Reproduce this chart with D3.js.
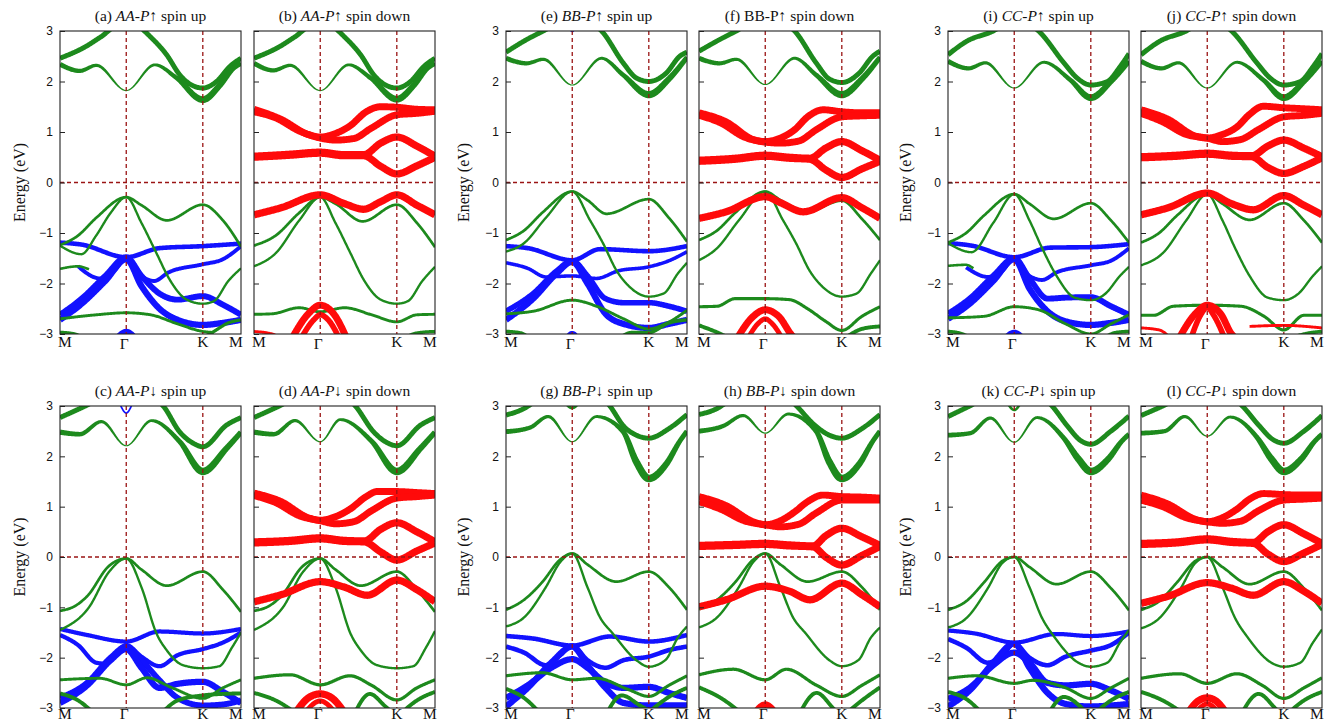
<!DOCTYPE html>
<html><head><meta charset="utf-8">
<script src="https://cdn.jsdelivr.net/npm/d3@7"></script>
<style>body{margin:0;background:#fff}svg{display:block}</style>
</head><body><svg id="c" width="1337" height="723"></svg>
<script>
// ---- data ----
const kLabels = ["M","Γ","K","M"];
const kPos = [0, 0.366, 0.789, 1];
const eTicks = [-3,-2,-1,0,1,2,3];
const titleParts = {
  a:["(a) ","AA-P","↑ spin up"], b:["(b) ","AA-P","↑ spin down"],
  c:["(c) ","AA-P","↓ spin up"], d:["(d) ","AA-P","↓ spin down"],
  e:["(e) ","BB-P","↑ spin up"], f:["(f) BB-P","","↑ spin down"],
  g:["(g) ","BB-P","↓ spin up"], h:["(h) ","BB-P","↓ spin down"],
  i:["(i) ","CC-P","↑ spin up"], j:["(j) ","CC-P","↑ spin down"],
  k:["(k) ","CC-P","↓ spin up"], l:["(l) ","CC-P","↓ spin down"]
};
// band: c = projection colour group, w = weight, p = [k, E(eV), optional weight]
const bandsA = [
 {c:"g",w:.6,p:[[0,2.46],[0.146,2.7],[0.22,2.87],[0.366,3.2],[0.515,2.83],[0.589,2.53],[0.662,2.13],[0.727,1.93],[0.789,1.87],[0.865,2.0],[0.939,2.3],[1,2.46]]},
 {c:"g",w:.5,p:[[0,2.34,.6],[0.109,2.21,.5],[0.201,2.32,.35],[0.366,1.82,.03],[0.524,2.33,.3],[0.644,2.07,.55],[0.789,1.64,.9],[0.884,1.93,.75],[0.958,2.26,.6],[1,2.36,.6]]},
 {c:"b",w:.55,p:[[0,-1.19],[0.12,-1.23],[0.366,-1.48],[0.55,-1.3],[0.789,-1.26],[1,-1.21]]},
 {c:"b",w:.45,p:[[0.1,-1.66],[0.22,-1.9],[0.3,-1.75],[0.366,-1.5],[0.45,-1.85],[0.52,-1.95],[0.6,-1.78],[0.789,-1.62],[0.9,-1.52],[1,-1.26]]},
 {c:"b",w:.75,p:[[0,-2.62],[0.12,-2.3],[0.25,-1.85],[0.366,-1.48],[0.45,-1.85],[0.55,-2.2],[0.65,-2.32],[0.789,-2.25],[0.9,-2.42],[1,-2.62]]},
 {c:"b",w:.8,p:[[0,-2.72],[0.12,-2.4],[0.25,-1.95],[0.366,-1.52],[0.45,-2.05],[0.55,-2.5],[0.65,-2.72],[0.789,-2.82],[0.9,-2.78],[1,-2.72]]},
 {c:"b",w:.8,p:[[0.3,-3.15],[0.366,-2.96],[0.43,-3.15]]},
 {c:"g",w:.27,p:[[0,-1.24],[0.1,-1.05],[0.2,-0.7],[0.366,-0.29],[0.45,-0.45],[0.59,-0.75],[0.789,-0.44],[0.9,-0.75],[1,-1.27]]},
 {c:"g",w:.22,p:[[0,-1.25],[0.118,-1.42],[0.2,-1.05],[0.28,-0.6],[0.366,-0.29],[0.45,-0.8],[0.533,-1.4],[0.607,-1.93],[0.7,-2.32],[0.789,-2.4],[0.85,-2.35],[0.93,-1.95],[1,-1.7]]},
 {c:"g",w:.25,p:[[0,-1.71],[0.1,-1.66],[0.16,-1.72]]},
 {c:"g",w:.3,p:[[0,-2.7],[0.2,-2.62],[0.366,-2.58],[0.5,-2.62],[0.65,-2.8],[0.789,-2.95],[0.85,-2.97]]},
 {c:"g",w:.35,p:[[0.75,-3.15],[0.85,-2.95],[0.93,-2.78],[1,-2.72]]},
 {c:"g",w:.4,p:[[0,-2.97],[0.08,-3.0],[0.15,-3.15]]}
];
const bandsB = [
 {c:"g",w:.6,p:[[0,2.46],[0.146,2.7],[0.22,2.87],[0.366,3.2],[0.515,2.83],[0.589,2.53],[0.662,2.13],[0.727,1.93],[0.789,1.87],[0.865,2.0],[0.939,2.3],[1,2.46]]},
 {c:"g",w:.5,p:[[0,2.36,.6],[0.107,2.22,.5],[0.2,2.32,.35],[0.366,1.82,.03],[0.523,2.33,.3],[0.644,2.07,.55],[0.789,1.65,.9],[0.884,1.93,.75],[0.958,2.26,.6],[1,2.36,.6]]},
 {c:"g",w:.27,p:[[0,-1.25],[0.12,-1.05],[0.25,-0.6],[0.366,-0.29],[0.45,-0.42],[0.6,-0.77],[0.789,-0.44],[0.9,-0.8],[1,-1.28]]},
 {c:"g",w:.22,p:[[0,-1.66],[0.12,-1.4],[0.25,-0.75],[0.366,-0.29],[0.45,-0.8],[0.533,-1.4],[0.607,-1.93],[0.7,-2.32],[0.789,-2.4],[0.85,-2.35],[0.93,-1.95],[1,-1.67]]},
 {c:"g",w:.3,p:[[0,-2.61],[0.1,-2.6],[0.25,-2.48],[0.366,-2.56],[0.5,-2.48],[0.65,-2.62],[0.789,-2.76],[0.9,-2.62],[1,-2.61]]},
 {c:"g",w:.35,p:[[0.8,-3.15],[0.9,-2.98],[1,-2.95]]},
 {c:"r",w:.9,p:[[0,1.45],[0.15,1.25],[0.3,0.95],[0.366,0.9],[0.45,0.97],[0.53,1.12],[0.62,1.4],[0.7,1.5],[0.789,1.49],[0.9,1.45],[1,1.44]]},
 {c:"r",w:.9,p:[[0,1.4],[0.12,1.28],[0.25,1.02],[0.366,0.88],[0.45,0.84],[0.55,0.87],[0.65,1.08],[0.789,1.34],[0.9,1.37],[1,1.41]]},
 {c:"r",w:.95,p:[[0,0.52],[0.2,0.56],[0.366,0.6],[0.5,0.55],[0.606,0.55],[0.7,0.78],[0.789,0.9],[0.9,0.72],[1,0.52]]},
 {c:"r",w:.95,p:[[0,0.5],[0.2,0.54],[0.366,0.58],[0.5,0.53],[0.606,0.53],[0.7,0.32],[0.789,0.17],[0.9,0.33],[1,0.5]]},
 {c:"r",w:.95,p:[[0,-0.64],[0.15,-0.5],[0.366,-0.245],[0.5,-0.42],[0.606,-0.53],[0.7,-0.38],[0.789,-0.245],[0.9,-0.45],[1,-0.64]]},
 {c:"r",w:.9,p:[[0.2,-3.15],[0.3,-2.6],[0.366,-2.43],[0.44,-2.6],[0.52,-3.15]]},
 {c:"r",w:.7,p:[[0.25,-3.15],[0.33,-2.72],[0.366,-2.62],[0.41,-2.72],[0.48,-3.15]]},
 {c:"r",w:.3,p:[[0,-2.95],[0.1,-3.0],[0.18,-3.15]]}
];
const bandsC = [
 {c:"g",w:.6,p:[[0,2.77],[0.14,3.0],[0.366,3.4],[0.57,3.0],[0.66,2.49],[0.736,2.26],[0.789,2.19],[0.92,2.62],[1,2.77]]},
 {c:"g",w:.5,p:[[0,2.48,.65],[0.109,2.44,.55],[0.229,2.69,.35],[0.366,2.21,.03],[0.506,2.71,.3],[0.662,2.29,.6],[0.789,1.7,1],[0.92,2.16,.75],[1,2.48,.65]]},
 {c:"b",w:.12,p:[[0.33,3.05],[0.366,2.86],[0.4,3.05]]},
 {c:"b",w:.5,p:[[0,-1.43],[0.15,-1.55],[0.366,-1.68],[0.55,-1.48],[0.789,-1.52],[1,-1.43]]},
 {c:"b",w:.5,p:[[0,-1.55],[0.1,-1.75],[0.2,-2.1],[0.25,-2.12],[0.366,-1.75],[0.45,-1.98],[0.55,-2.17],[0.65,-1.95],[0.789,-1.83],[0.9,-1.7],[1,-1.5]]},
 {c:"b",w:.75,p:[[0,-2.8],[0.15,-2.5],[0.28,-2.0],[0.366,-1.78],[0.45,-2.05],[0.55,-2.45],[0.65,-2.8],[0.789,-2.95],[0.9,-2.93],[1,-2.85]]},
 {c:"b",w:.8,p:[[0,-2.9],[0.15,-2.55],[0.28,-2.05],[0.366,-1.83],[0.45,-2.2],[0.55,-2.6],[0.65,-2.52],[0.789,-2.48],[0.9,-2.68],[1,-2.9]]},
 {c:"g",w:.27,p:[[0,-1.07],[0.08,-0.98],[0.15,-0.78],[0.27,-0.18],[0.366,-0.03],[0.45,-0.25],[0.59,-0.57],[0.789,-0.29],[0.9,-0.65],[1,-1.09]]},
 {c:"g",w:.22,p:[[0,-1.45],[0.16,-1.0],[0.27,-0.3],[0.366,-0.03],[0.45,-0.6],[0.533,-1.52],[0.589,-1.85],[0.68,-2.15],[0.789,-2.21],[0.88,-2.17],[0.95,-1.8],[1,-1.5]]},
 {c:"g",w:.3,p:[[0,-2.44],[0.22,-2.41],[0.366,-2.54],[0.48,-2.4],[0.62,-2.6],[0.789,-2.81],[0.9,-2.6],[1,-2.44]]},
 {c:"g",w:.45,p:[[0,-2.71],[0.1,-2.85],[0.2,-3.15]]},
 {c:"g",w:.45,p:[[0.55,-3.15],[0.65,-2.85],[0.789,-2.75],[0.9,-2.72],[1,-2.71]]}
];
const bandsD = [
 {c:"g",w:.6,p:[[0,2.77],[0.14,3.0],[0.366,3.4],[0.56,3.0],[0.66,2.49],[0.736,2.27],[0.789,2.21],[0.92,2.62],[1,2.77]]},
 {c:"g",w:.5,p:[[0,2.48,.65],[0.109,2.44,.55],[0.227,2.71,.35],[0.366,2.29,.03],[0.477,2.73,.3],[0.65,2.3,.6],[0.789,1.7,1],[0.92,2.16,.75],[1,2.48,.65]]},
 {c:"g",w:.27,p:[[0,-1.07],[0.08,-0.98],[0.15,-0.78],[0.27,-0.18],[0.366,-0.03],[0.45,-0.25],[0.59,-0.57],[0.789,-0.29],[0.9,-0.65],[1,-1.09]]},
 {c:"g",w:.22,p:[[0,-1.45],[0.16,-1.0],[0.27,-0.3],[0.366,-0.03],[0.45,-0.6],[0.533,-1.52],[0.589,-1.85],[0.68,-2.15],[0.789,-2.21],[0.88,-2.17],[0.95,-1.8],[1,-1.47]]},
 {c:"g",w:.35,p:[[0,-2.41],[0.2,-2.34],[0.366,-2.54],[0.53,-2.36],[0.65,-2.55],[0.789,-2.84],[0.9,-2.6],[1,-2.44]]},
 {c:"g",w:.45,p:[[0,-2.7],[0.12,-2.85],[0.25,-3.15]]},
 {c:"g",w:.45,p:[[0.55,-3.15],[0.64,-2.72],[0.72,-2.95],[0.78,-3.15]]},
 {c:"g",w:.45,p:[[0.8,-3.15],[0.9,-2.85],[1,-2.68]]},
 {c:"r",w:.9,p:[[0,1.27],[0.15,1.1],[0.3,0.78],[0.366,0.73],[0.45,0.8],[0.53,0.95],[0.62,1.2],[0.68,1.3],[0.789,1.3],[0.9,1.28],[1,1.26]]},
 {c:"r",w:.9,p:[[0,1.22],[0.12,1.08],[0.25,0.82],[0.366,0.72],[0.45,0.66],[0.55,0.7],[0.65,0.92],[0.789,1.17],[0.9,1.2],[1,1.23]]},
 {c:"r",w:.95,p:[[0,0.3],[0.2,0.33],[0.366,0.38],[0.5,0.33],[0.61,0.32],[0.7,0.55],[0.789,0.68],[0.9,0.5],[1,0.3]]},
 {c:"r",w:.95,p:[[0,0.28],[0.2,0.31],[0.366,0.36],[0.5,0.31],[0.61,0.3],[0.7,0.1],[0.789,-0.06],[0.9,0.12],[1,0.28]]},
 {c:"r",w:.95,p:[[0,-0.89],[0.15,-0.75],[0.366,-0.49],[0.5,-0.6],[0.625,-0.76],[0.789,-0.46],[0.9,-0.65],[1,-0.89]]},
 {c:"r",w:.95,p:[[0.22,-3.15],[0.3,-2.8],[0.366,-2.72],[0.43,-2.8],[0.51,-3.15]]},
 {c:"r",w:.6,p:[[0.27,-3.15],[0.366,-2.86],[0.46,-3.15]]}
];
const bandsE = [
 {c:"g",w:.6,p:[[0,2.58],[0.114,2.83],[0.206,3.0],[0.366,3.3],[0.528,3.0],[0.647,2.37],[0.72,2.07],[0.789,2.0],[0.886,2.17],[0.96,2.5],[1,2.58]]},
 {c:"g",w:.5,p:[[0,2.46,.6],[0.114,2.36,.5],[0.206,2.44,.35],[0.366,1.93,.03],[0.528,2.46,.3],[0.647,2.13,.55],[0.789,1.74,.95],[0.9,2.05,.75],[1,2.48,.6]]},
 {c:"b",w:.3,p:[[0.35,3.1],[0.366,3.0],[0.38,3.1]]},
 {c:"b",w:.55,p:[[0,-1.26],[0.12,-1.3],[0.366,-1.54],[0.52,-1.32],[0.789,-1.36],[1,-1.26]]},
 {c:"b",w:.4,p:[[0,-1.59],[0.12,-1.7],[0.22,-1.87],[0.366,-1.85],[0.5,-1.9],[0.62,-1.75],[0.789,-1.67],[0.9,-1.55],[1,-1.37]]},
 {c:"b",w:.7,p:[[0,-2.55],[0.15,-2.2],[0.28,-1.75],[0.366,-1.55],[0.45,-1.85],[0.55,-2.3],[0.65,-2.38],[0.789,-2.38],[0.9,-2.45],[1,-2.55]]},
 {c:"b",w:.8,p:[[0,-2.72],[0.15,-2.3],[0.28,-1.8],[0.366,-1.57],[0.45,-2.0],[0.55,-2.6],[0.65,-2.8],[0.789,-2.88],[0.9,-2.8],[1,-2.72]]},
 {c:"b",w:.5,p:[[0.32,-3.15],[0.366,-2.98],[0.41,-3.15]]},
 {c:"g",w:.27,p:[[0,-1.14],[0.1,-0.95],[0.2,-0.6],[0.366,-0.18],[0.45,-0.35],[0.555,-0.62],[0.789,-0.33],[0.9,-0.7],[1,-1.17]]},
 {c:"g",w:.22,p:[[0,-1.37],[0.1,-1.2],[0.22,-0.7],[0.366,-0.18],[0.463,-0.74],[0.537,-1.21],[0.61,-1.74],[0.684,-2.07],[0.789,-2.26],[0.87,-2.2],[0.95,-1.8],[1,-1.59]]},
 {c:"g",w:.3,p:[[0,-2.6],[0.15,-2.55],[0.366,-2.33],[0.5,-2.45],[0.65,-2.7],[0.789,-2.9],[0.88,-2.8],[1,-2.53]]},
 {c:"g",w:.4,p:[[0,-2.95],[0.08,-2.98],[0.15,-3.15]]},
 {c:"g",w:.4,p:[[0.6,-3.15],[0.7,-2.97],[0.789,-2.97],[0.9,-2.78],[1,-2.72]]}
];
const bandsF = [
 {c:"g",w:.6,p:[[0,2.6],[0.114,2.83],[0.206,3.0],[0.366,3.3],[0.528,3.0],[0.647,2.37],[0.72,2.05],[0.789,1.98],[0.886,2.17],[0.96,2.5],[1,2.6]]},
 {c:"g",w:.5,p:[[0,2.46,.6],[0.114,2.36,.5],[0.206,2.44,.35],[0.366,1.94,.03],[0.528,2.46,.3],[0.647,2.13,.55],[0.789,1.74,.95],[0.9,2.05,.75],[1,2.48,.6]]},
 {c:"g",w:.27,p:[[0,-1.14],[0.1,-0.95],[0.2,-0.6],[0.366,-0.18],[0.45,-0.35],[0.576,-0.61],[0.789,-0.36],[0.9,-0.72],[1,-1.14]]},
 {c:"g",w:.22,p:[[0,-1.54],[0.1,-1.3],[0.22,-0.75],[0.366,-0.18],[0.463,-0.74],[0.537,-1.21],[0.61,-1.74],[0.684,-2.07],[0.789,-2.26],[0.87,-2.2],[0.95,-1.8],[1,-1.54]]},
 {c:"g",w:.33,p:[[0,-2.46],[0.1,-2.45],[0.2,-2.3],[0.366,-2.3],[0.5,-2.32],[0.6,-2.5],[0.7,-2.75],[0.789,-2.93],[0.9,-2.65],[1,-2.46]]},
 {c:"g",w:.45,p:[[0,-2.83],[0.12,-3.0],[0.2,-3.15]]},
 {c:"g",w:.45,p:[[0.8,-3.1],[0.9,-2.9],[1,-2.85]]},
 {c:"r",w:.9,p:[[0,1.38],[0.15,1.2],[0.3,0.85],[0.366,0.81],[0.45,0.88],[0.53,1.05],[0.6,1.3],[0.686,1.44],[0.789,1.4],[0.9,1.38],[1,1.38]]},
 {c:"r",w:.9,p:[[0,1.33],[0.12,1.18],[0.25,0.9],[0.366,0.8],[0.45,0.78],[0.55,0.82],[0.65,1.05],[0.789,1.3],[0.9,1.32],[1,1.33]]},
 {c:"r",w:.95,p:[[0,0.44],[0.2,0.48],[0.366,0.54],[0.5,0.5],[0.613,0.48],[0.7,0.68],[0.789,0.81],[0.9,0.63],[1,0.44]]},
 {c:"r",w:.95,p:[[0,0.42],[0.2,0.46],[0.366,0.52],[0.5,0.48],[0.613,0.46],[0.7,0.25],[0.789,0.1],[0.9,0.27],[1,0.42]]},
 {c:"r",w:.95,p:[[0,-0.71],[0.15,-0.58],[0.366,-0.28],[0.45,-0.4],[0.576,-0.58],[0.789,-0.3],[0.9,-0.5],[1,-0.71]]},
 {c:"r",w:.9,p:[[0.2,-3.15],[0.3,-2.65],[0.366,-2.52],[0.44,-2.65],[0.52,-3.05],[0.58,-3.15]]},
 {c:"r",w:.6,p:[[0.26,-3.15],[0.33,-2.78],[0.366,-2.7],[0.4,-2.78],[0.47,-3.15]]}
];
const bandsG = [
 {c:"g",w:.6,p:[[0,2.82],[0.1,2.95],[0.2,3.2],[0.366,3.5],[0.574,3.0],[0.65,2.6],[0.72,2.42],[0.789,2.36],[0.9,2.55],[1,2.83]]},
 {c:"g",w:.5,p:[[0,2.49,.6],[0.132,2.57,.5],[0.233,2.79,.35],[0.366,2.29,.03],[0.5,2.79,.3],[0.647,2.49,.6],[0.72,1.89,.9],[0.789,1.56,1],[0.886,1.85,.8],[0.96,2.3,.6],[1,2.5,.6]]},
 {c:"g",w:.3,p:[[0.33,3.05],[0.366,2.96],[0.4,3.05]]},
 {c:"b",w:.55,p:[[0,-1.57],[0.15,-1.62],[0.366,-1.76],[0.574,-1.58],[0.789,-1.68],[1,-1.55]]},
 {c:"b",w:.55,p:[[0,-1.78],[0.1,-1.9],[0.22,-2.15],[0.3,-1.95],[0.366,-1.76],[0.45,-2.05],[0.55,-2.2],[0.65,-2.05],[0.789,-1.98],[0.9,-1.85],[1,-1.78]]},
 {c:"b",w:.8,p:[[0,-2.8],[0.12,-2.55],[0.25,-2.2],[0.366,-2.03],[0.45,-2.2],[0.55,-2.5],[0.65,-2.6],[0.789,-2.58],[0.9,-2.7],[1,-2.8]]},
 {c:"b",w:.8,p:[[0,-2.97],[0.12,-2.6],[0.25,-2.1],[0.366,-1.78],[0.45,-2.15],[0.55,-2.6],[0.65,-2.9],[0.789,-2.95],[0.9,-2.95],[1,-2.95]]},
 {c:"g",w:.27,p:[[0,-1.05],[0.1,-0.85],[0.2,-0.5],[0.3,-0.05],[0.366,0.07],[0.45,-0.15],[0.61,-0.49],[0.789,-0.29],[0.9,-0.6],[1,-1.05]]},
 {c:"g",w:.22,p:[[0,-1.38],[0.1,-1.2],[0.22,-0.6],[0.3,-0.1],[0.366,0.07],[0.45,-0.6],[0.518,-1.19],[0.59,-1.52],[0.72,-2.05],[0.789,-2.18],[0.88,-2.05],[0.95,-1.6],[1,-1.38]]},
 {c:"g",w:.33,p:[[0,-2.36],[0.2,-2.3],[0.366,-2.44],[0.5,-2.41],[0.68,-2.64],[0.789,-2.77],[0.9,-2.55],[1,-2.36]]},
 {c:"g",w:.45,p:[[0,-2.62],[0.1,-2.8],[0.2,-3.15]]},
 {c:"g",w:.45,p:[[0.55,-3.15],[0.64,-2.75],[0.74,-2.95],[0.789,-3.05]]},
 {c:"g",w:.45,p:[[0.8,-3.05],[0.9,-2.78],[1,-2.6]]}
];
const bandsH = [
 {c:"g",w:.6,p:[[0,2.83],[0.1,2.95],[0.2,3.2],[0.366,3.5],[0.539,3.0],[0.63,2.65],[0.72,2.42],[0.789,2.36],[0.9,2.55],[1,2.83]]},
 {c:"g",w:.5,p:[[0,2.5,.6],[0.132,2.6,.5],[0.244,2.81,.35],[0.366,2.46,.03],[0.493,2.84,.3],[0.647,2.5,.6],[0.72,1.89,.9],[0.789,1.56,1],[0.886,1.85,.8],[0.96,2.3,.6],[1,2.5,.6]]},
 {c:"g",w:.27,p:[[0,-1.04],[0.1,-0.85],[0.2,-0.5],[0.3,-0.05],[0.366,0.07],[0.45,-0.15],[0.6,-0.49],[0.789,-0.29],[0.9,-0.6],[1,-1.05]]},
 {c:"g",w:.22,p:[[0,-1.4],[0.1,-1.2],[0.22,-0.6],[0.3,-0.1],[0.366,0.07],[0.45,-0.6],[0.518,-1.19],[0.59,-1.52],[0.72,-2.05],[0.789,-2.17],[0.88,-2.05],[0.95,-1.6],[1,-1.4]]},
 {c:"g",w:.35,p:[[0,-2.34],[0.19,-2.23],[0.366,-2.44],[0.483,-2.23],[0.65,-2.55],[0.789,-2.77],[0.9,-2.55],[1,-2.34]]},
 {c:"g",w:.45,p:[[0,-2.59],[0.12,-2.8],[0.25,-3.15]]},
 {c:"g",w:.45,p:[[0.55,-3.15],[0.65,-2.7],[0.74,-3.0],[0.78,-3.15]]},
 {c:"g",w:.45,p:[[0.8,-3.15],[0.9,-2.85],[1,-2.59]]},
 {c:"r",w:.9,p:[[0,1.2],[0.15,1.02],[0.3,0.7],[0.366,0.64],[0.45,0.72],[0.53,0.9],[0.6,1.1],[0.686,1.23],[0.789,1.2],[0.9,1.19],[1,1.17]]},
 {c:"r",w:.9,p:[[0,1.1],[0.12,0.95],[0.25,0.72],[0.366,0.64],[0.45,0.6],[0.55,0.65],[0.65,0.88],[0.789,1.13],[0.9,1.13],[1,1.13]]},
 {c:"r",w:.95,p:[[0,0.23],[0.2,0.25],[0.366,0.27],[0.5,0.24],[0.631,0.22],[0.7,0.42],[0.789,0.57],[0.9,0.4],[1,0.23]]},
 {c:"r",w:.95,p:[[0,0.21],[0.2,0.23],[0.366,0.25],[0.5,0.22],[0.631,0.2],[0.7,0.0],[0.789,-0.16],[0.9,0.03],[1,0.21]]},
 {c:"r",w:.95,p:[[0,-0.99],[0.15,-0.85],[0.366,-0.58],[0.5,-0.68],[0.613,-0.85],[0.789,-0.52],[0.9,-0.75],[1,-0.99]]},
 {c:"r",w:.95,p:[[0.3,-3.15],[0.366,-2.94],[0.43,-3.15]]}
];
const bandsI = [
 {c:"g",w:.6,p:[[0,2.53],[0.105,2.8],[0.25,3.0],[0.366,3.25],[0.5,3.0],[0.64,2.37],[0.713,2.07],[0.789,1.93],[0.88,2.0],[0.952,2.3],[1,2.55]]},
 {c:"g",w:.5,p:[[0,2.4,.6],[0.114,2.26,.5],[0.206,2.37,.35],[0.366,1.87,.03],[0.529,2.38,.3],[0.676,2.03,.55],[0.789,1.68,.9],[0.9,2.0,.7],[1,2.4,.6]]},
 {c:"b",w:.55,p:[[0,-1.2],[0.13,-1.25],[0.366,-1.48],[0.565,-1.29],[0.789,-1.28],[1,-1.22]]},
 {c:"b",w:.45,p:[[0.1,-1.68],[0.22,-1.87],[0.3,-1.75],[0.366,-1.5],[0.45,-1.85],[0.52,-1.93],[0.6,-1.78],[0.789,-1.64],[0.9,-1.55],[1,-1.3]]},
 {c:"b",w:.75,p:[[0,-2.6],[0.12,-2.3],[0.25,-1.85],[0.366,-1.5],[0.45,-1.9],[0.55,-2.3],[0.65,-2.28],[0.789,-2.27],[0.9,-2.45],[1,-2.62]]},
 {c:"b",w:.8,p:[[0,-2.7],[0.12,-2.4],[0.25,-1.95],[0.366,-1.52],[0.45,-2.1],[0.55,-2.55],[0.65,-2.75],[0.789,-2.82],[0.9,-2.78],[1,-2.72]]},
 {c:"b",w:.7,p:[[0.3,-3.15],[0.366,-2.97],[0.43,-3.15]]},
 {c:"g",w:.27,p:[[0,-1.19],[0.1,-1.0],[0.2,-0.65],[0.366,-0.23],[0.45,-0.42],[0.584,-0.72],[0.789,-0.41],[0.9,-0.75],[1,-1.19]]},
 {c:"g",w:.22,p:[[0,-1.2],[0.13,-1.38],[0.25,-0.8],[0.366,-0.23],[0.45,-0.75],[0.52,-1.3],[0.6,-1.85],[0.7,-2.28],[0.789,-2.33],[0.87,-2.2],[0.95,-1.85],[1,-1.67]]},
 {c:"g",w:.25,p:[[0,-1.65],[0.1,-1.63],[0.14,-1.7]]},
 {c:"g",w:.3,p:[[0,-2.68],[0.2,-2.65],[0.366,-2.46],[0.5,-2.52],[0.65,-2.8],[0.789,-3.0],[0.9,-2.8],[1,-2.62]]},
 {c:"g",w:.4,p:[[0,-2.95],[0.08,-3.0],[0.15,-3.15]]},
 {c:"g",w:.4,p:[[0.85,-3.1],[0.93,-2.97],[1,-2.95]]}
];
const bandsJ = [
 {c:"g",w:.6,p:[[0,2.53],[0.105,2.8],[0.25,3.0],[0.366,3.25],[0.5,3.0],[0.64,2.37],[0.713,2.07],[0.789,1.93],[0.88,2.0],[0.952,2.3],[1,2.55]]},
 {c:"g",w:.5,p:[[0,2.4,.6],[0.114,2.26,.5],[0.206,2.37,.35],[0.366,1.87,.03],[0.529,2.38,.3],[0.676,2.03,.55],[0.789,1.68,.9],[0.9,2.0,.7],[1,2.4,.6]]},
 {c:"g",w:.27,p:[[0,-1.19],[0.1,-1.0],[0.2,-0.65],[0.366,-0.23],[0.45,-0.42],[0.6,-0.74],[0.789,-0.41],[0.9,-0.75],[1,-1.19]]},
 {c:"g",w:.22,p:[[0,-1.64],[0.12,-1.4],[0.25,-0.75],[0.366,-0.23],[0.45,-0.75],[0.52,-1.3],[0.6,-1.85],[0.7,-2.28],[0.789,-2.33],[0.87,-2.2],[0.95,-1.85],[1,-1.66]]},
 {c:"g",w:.33,p:[[0,-2.63],[0.07,-2.63],[0.18,-2.45],[0.366,-2.43],[0.55,-2.45],[0.68,-2.65],[0.789,-2.92],[0.9,-2.63],[1,-2.63]]},
 {c:"g",w:.4,p:[[0.85,-3.05],[0.93,-2.98],[1,-2.95]]},
 {c:"r",w:.9,p:[[0,1.44],[0.15,1.25],[0.3,0.92],[0.366,0.88],[0.45,0.95],[0.53,1.1],[0.6,1.35],[0.676,1.51],[0.789,1.48],[0.9,1.46],[1,1.44]]},
 {c:"r",w:.9,p:[[0,1.37],[0.12,1.2],[0.25,0.95],[0.366,0.88],[0.45,0.81],[0.55,0.85],[0.65,1.05],[0.789,1.3],[0.9,1.33],[1,1.37]]},
 {c:"r",w:.95,p:[[0,0.51],[0.2,0.54],[0.366,0.58],[0.5,0.54],[0.612,0.53],[0.7,0.72],[0.789,0.84],[0.9,0.68],[1,0.51]]},
 {c:"r",w:.95,p:[[0,0.49],[0.2,0.52],[0.366,0.56],[0.5,0.52],[0.612,0.51],[0.7,0.3],[0.789,0.18],[0.9,0.32],[1,0.49]]},
 {c:"r",w:.95,p:[[0,-0.64],[0.15,-0.5],[0.366,-0.21],[0.5,-0.42],[0.62,-0.54],[0.789,-0.26],[0.9,-0.45],[1,-0.64]]},
 {c:"r",w:.9,p:[[0.2,-3.15],[0.3,-2.6],[0.366,-2.43],[0.44,-2.6],[0.5,-3.0],[0.56,-3.15]]},
 {c:"r",w:.7,p:[[0.27,-3.15],[0.33,-2.62],[0.366,-2.47],[0.4,-2.62],[0.47,-3.15]]},
 {c:"r",w:.3,p:[[0,-2.88],[0.1,-2.92],[0.18,-3.15]]},
 {c:"r",w:.3,p:[[0.6,-2.85],[0.789,-2.83],[1,-2.88]]}
];
const bandsK = [
 {c:"g",w:.6,p:[[0,2.79],[0.12,3.0],[0.366,3.45],[0.575,3.0],[0.66,2.6],[0.73,2.32],[0.789,2.24],[0.9,2.5],[1,2.8]]},
 {c:"g",w:.5,p:[[0,2.42,.6],[0.123,2.46,.5],[0.234,2.76,.35],[0.366,2.28,.03],[0.492,2.77,.3],[0.64,2.36,.6],[0.72,1.95,.9],[0.789,1.7,1],[0.886,1.95,.8],[0.96,2.3,.6],[1,2.44,.6]]},
 {c:"g",w:.25,p:[[0.33,3.05],[0.366,2.92],[0.4,3.05]]},
 {c:"b",w:.5,p:[[0,-1.46],[0.15,-1.52],[0.366,-1.7],[0.6,-1.53],[0.789,-1.57],[1,-1.48]]},
 {c:"b",w:.55,p:[[0,-1.63],[0.1,-1.8],[0.22,-2.1],[0.3,-1.95],[0.366,-1.72],[0.45,-2.0],[0.55,-2.15],[0.65,-1.98],[0.789,-1.86],[0.9,-1.75],[1,-1.5]]},
 {c:"b",w:.8,p:[[0,-2.82],[0.12,-2.6],[0.25,-2.15],[0.366,-1.9],[0.45,-2.1],[0.55,-2.5],[0.65,-2.55],[0.789,-2.52],[0.9,-2.65],[1,-2.82]]},
 {c:"b",w:.8,p:[[0,-2.97],[0.12,-2.65],[0.25,-2.1],[0.366,-1.72],[0.45,-2.2],[0.55,-2.7],[0.65,-2.92],[0.789,-2.97],[0.9,-2.95],[1,-2.92]]},
 {c:"g",w:.27,p:[[0,-1.05],[0.1,-0.88],[0.2,-0.5],[0.3,-0.08],[0.366,0.0],[0.45,-0.2],[0.6,-0.54],[0.789,-0.29],[0.9,-0.62],[1,-1.06]]},
 {c:"g",w:.22,p:[[0,-1.4],[0.1,-1.22],[0.22,-0.62],[0.3,-0.12],[0.366,0.0],[0.45,-0.6],[0.518,-1.2],[0.59,-1.6],[0.72,-2.1],[0.789,-2.18],[0.88,-2.1],[0.95,-1.7],[1,-1.45]]},
 {c:"g",w:.33,p:[[0,-2.41],[0.16,-2.36],[0.366,-2.51],[0.47,-2.45],[0.65,-2.6],[0.789,-2.81],[0.9,-2.6],[1,-2.41]]},
 {c:"g",w:.45,p:[[0,-2.68],[0.1,-2.82],[0.2,-3.15]]},
 {c:"g",w:.45,p:[[0.55,-3.15],[0.64,-2.78],[0.74,-3.0],[0.78,-3.15]]},
 {c:"g",w:.45,p:[[0.8,-3.15],[0.9,-2.85],[1,-2.68]]}
];
const bandsL = [
 {c:"g",w:.6,p:[[0,2.81],[0.12,3.0],[0.366,3.45],[0.56,3.0],[0.65,2.62],[0.73,2.33],[0.789,2.26],[0.9,2.5],[1,2.81]]},
 {c:"g",w:.5,p:[[0,2.46,.6],[0.13,2.5,.5],[0.242,2.79,.35],[0.366,2.4,.03],[0.492,2.78,.3],[0.64,2.38,.6],[0.72,1.95,.9],[0.789,1.7,1],[0.886,1.95,.8],[0.96,2.3,.6],[1,2.44,.6]]},
 {c:"g",w:.27,p:[[0,-1.05],[0.1,-0.88],[0.2,-0.5],[0.3,-0.08],[0.366,0.0],[0.45,-0.2],[0.6,-0.54],[0.789,-0.29],[0.9,-0.62],[1,-1.06]]},
 {c:"g",w:.22,p:[[0,-1.42],[0.1,-1.22],[0.22,-0.62],[0.3,-0.12],[0.366,0.0],[0.45,-0.6],[0.518,-1.2],[0.59,-1.6],[0.72,-2.1],[0.789,-2.18],[0.88,-2.1],[0.95,-1.7],[1,-1.44]]},
 {c:"g",w:.35,p:[[0,-2.41],[0.214,-2.32],[0.366,-2.51],[0.53,-2.32],[0.67,-2.55],[0.789,-2.81],[0.9,-2.6],[1,-2.4]]},
 {c:"g",w:.45,p:[[0,-2.68],[0.12,-2.85],[0.25,-3.15]]},
 {c:"g",w:.45,p:[[0.55,-3.15],[0.65,-2.72],[0.74,-3.0],[0.78,-3.15]]},
 {c:"g",w:.45,p:[[0.8,-3.15],[0.9,-2.85],[1,-2.68]]},
 {c:"r",w:.9,p:[[0,1.23],[0.15,1.05],[0.3,0.75],[0.366,0.7],[0.45,0.78],[0.53,0.95],[0.6,1.15],[0.677,1.26],[0.789,1.24],[0.9,1.23],[1,1.23]]},
 {c:"r",w:.9,p:[[0,1.13],[0.12,1.0],[0.25,0.78],[0.366,0.7],[0.45,0.67],[0.55,0.71],[0.65,0.92],[0.789,1.13],[0.9,1.15],[1,1.17]]},
 {c:"r",w:.95,p:[[0,0.27],[0.2,0.3],[0.366,0.36],[0.5,0.31],[0.621,0.29],[0.7,0.5],[0.789,0.64],[0.9,0.46],[1,0.27]]},
 {c:"r",w:.95,p:[[0,0.25],[0.2,0.28],[0.366,0.34],[0.5,0.29],[0.621,0.27],[0.7,0.06],[0.789,-0.09],[0.9,0.08],[1,0.25]]},
 {c:"r",w:.95,p:[[0,-0.92],[0.15,-0.78],[0.366,-0.51],[0.5,-0.62],[0.62,-0.76],[0.789,-0.49],[0.9,-0.68],[1,-0.92]]},
 {c:"r",w:.95,p:[[0.25,-3.15],[0.32,-2.85],[0.366,-2.8],[0.41,-2.85],[0.48,-3.15]]},
 {c:"r",w:.6,p:[[0.29,-3.15],[0.366,-2.92],[0.44,-3.15]]}
];
const panelBands = {a:bandsA,b:bandsB,c:bandsC,d:bandsD,e:bandsE,f:bandsF,g:bandsG,h:bandsH,i:bandsI,j:bandsJ,k:bandsK,l:bandsL};

// ---- layout / style ----
const colX = [60, 254, 506, 699, 948, 1141];
const panelW = 181;
const rows = [[31, 334], [406, 708]];
const labelBase = [347, 719];
const grid = [["a","b","e","f","i","j"], ["c","d","g","h","k","l"]];
const ylabX = [19, 463, 905];
const colors = {g:"#1d8a1d", b:"#1212ff", r:"#ff0a0a"};
const order = {b:0, g:1, r:2};
const dashCol = "#9a1414";
const widthPx = d3.scaleLinear().domain([0,1]).range([0.9, 7.6]);

const svg = d3.select("#c");
const svgNode = svg.node();
const defs = svg.append("defs");
const serif = "'Liberation Serif','Times New Roman',serif";
const sans = "'Liberation Sans',Arial,sans-serif";

function ribbon(band, x, y) {
  const line = d3.line().x(d => x(d[0])).y(d => y(d[1])).curve(d3.curveMonotoneX);
  const tmp = document.createElementNS("http://www.w3.org/2000/svg", "path");
  tmp.setAttribute("d", line(band.p));
  svgNode.appendChild(tmp);
  const L = tmp.getTotalLength();
  const n = Math.max(4, Math.ceil(L / 0.8));
  const pts = d3.range(n + 1).map(i => { const q = tmp.getPointAtLength(L * i / n); return [q.x, q.y]; });
  tmp.remove();
  const wScale = d3.scaleLinear()
    .domain(band.p.map(d => x(d[0])))
    .range(band.p.map(d => d.length > 2 ? d[2] : band.w)).clamp(true);
  const left = [], right = [];
  pts.forEach((p, i) => {
    const a = pts[Math.max(0, i - 1)], b = pts[Math.min(n, i + 1)];
    let dx = b[0] - a[0], dy = b[1] - a[1];
    const len = Math.hypot(dx, dy) || 1; dx /= len; dy /= len;
    const h = widthPx(wScale(p[0])) / 2;
    left.push([p[0] - dy * h, p[1] + dx * h]);
    right.push([p[0] + dy * h, p[1] - dx * h]);
  });
  const all = left.concat(right.reverse());
  return "M" + all.map(p => p[0].toFixed(2) + "," + p[1].toFixed(2)).join("L") + "Z";
}

grid.forEach((rowIds, ri) => {
  const [yTop, yBot] = rows[ri];
  rowIds.forEach((id, ci) => {
    const x0 = colX[ci], x1 = x0 + panelW;
    const x = d3.scaleLinear().domain([0, 1]).range([x0, x1]);
    const y = d3.scaleLinear().domain([-3, 3]).range([yBot, yTop]);
    const g = svg.append("g");
    const clipId = "clip-" + id;
    defs.append("clipPath").attr("id", clipId).append("rect")
      .attr("x", x0).attr("y", yTop).attr("width", panelW).attr("height", yBot - yTop);
    const plot = g.append("g").attr("clip-path", `url(#${clipId})`);
    const bands = panelBands[id].slice().sort((p, q) => order[p.c] - order[q.c]);
    bands.forEach(b => {
      plot.append("path").attr("d", ribbon(b, x, y)).attr("fill", colors[b.c]).attr("stroke", "none");
    });
    [kPos[1], kPos[2]].forEach(k => {
      plot.append("line").attr("x1", x(k)).attr("x2", x(k)).attr("y1", yTop).attr("y2", yBot)
        .attr("stroke", dashCol).attr("stroke-width", 1.3).attr("stroke-dasharray", "4,3");
    });
    plot.append("line").attr("x1", x0).attr("x2", x1).attr("y1", y(0)).attr("y2", y(0))
      .attr("stroke", dashCol).attr("stroke-width", 1.3).attr("stroke-dasharray", "4,3");
    const yAxis = d3.axisLeft(y).tickValues(eTicks).tickSizeInner(-5).tickSizeOuter(0)
      .tickFormat(ci % 2 === 0 ? d3.format("d") : () => "");
    const ax = g.append("g").attr("transform", `translate(${x0},0)`).call(yAxis);
    ax.select(".domain").remove();
    ax.selectAll(".tick line").attr("stroke", "#222");
    ax.selectAll(".tick text").attr("x", -7).attr("font-family", sans).attr("font-size", 12).attr("fill", "#111");
    g.append("rect").attr("x", x0).attr("y", yTop).attr("width", panelW).attr("height", yBot - yTop)
      .attr("fill", "none").attr("stroke", "#222").attr("stroke-width", 1.1);
    const labX = [x(kPos[0]) + 5, x(kPos[1]) - 2, x(kPos[2]), x(kPos[3]) - 5];
    kLabels.forEach((t, i) => {
      g.append("text").attr("x", labX[i]).attr("y", labelBase[ri] + (i === 1 && ri === 0 ? 1.5 : 0))
        .attr("text-anchor", "middle").attr("font-family", serif).attr("font-size", 15.5).attr("fill", "#111").text(t);
    });
    const tp = titleParts[id];
    const tt = g.append("text").attr("x", (x0 + x1) / 2).attr("y", yTop - 10)
      .attr("text-anchor", "middle").attr("font-family", serif).attr("font-size", 15.5).attr("fill", "#111");
    tt.append("tspan").text(tp[0]);
    if (tp[1]) tt.append("tspan").attr("font-style", "italic").text(tp[1]);
    tt.append("tspan").text(tp[2]);
    if (ci % 2 === 0) {
      const cx = ylabX[ci / 2], cy = y(0);
      g.append("text").attr("transform", `translate(${cx},${cy}) rotate(-90)`)
        .attr("text-anchor", "middle").attr("dominant-baseline", "central")
        .attr("font-family", serif).attr("font-size", 16).attr("fill", "#111").text("Energy (eV)");
    }
  });
});
</script>
</body></html>
